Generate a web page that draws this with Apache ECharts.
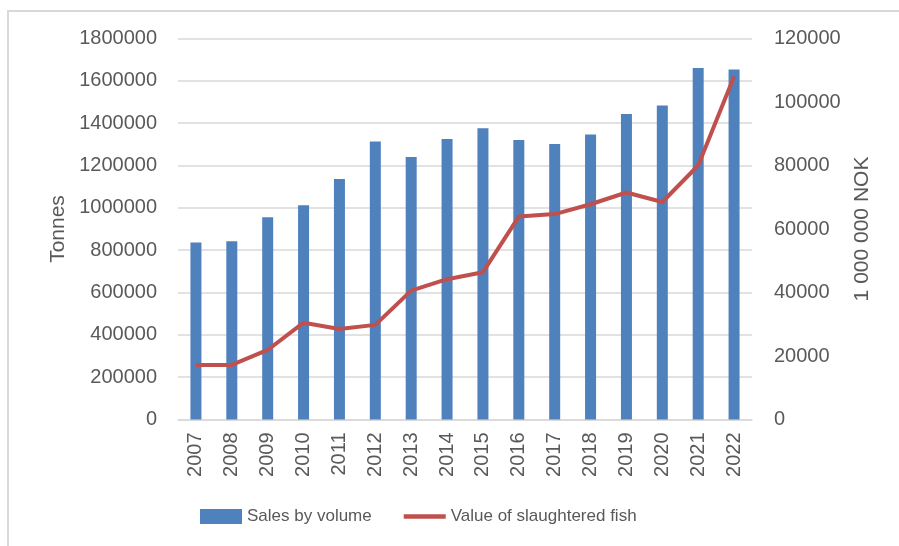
<!DOCTYPE html>
<html>
<head>
<meta charset="utf-8">
<script src="https://cdn.jsdelivr.net/npm/echarts@6/dist/echarts.min.js"></script>
<style>html,body{margin:0;padding:0;background:#fff}#c{width:899px;height:546px}</style>
</head>
<body>
<div id="c"></div>
<script>
const categories = ['2007','2008','2009','2010','2011','2012','2013','2014','2015','2016','2017','2018','2019','2020','2021','2022'];
const salesByVolume = [836000, 842000, 955000, 1012000, 1136000, 1313000, 1240000, 1325000, 1376000, 1320000, 1302000, 1347000, 1443000, 1484000, 1661000, 1654000];
const valueSlaughtered = [17200, 17200, 21900, 30500, 28500, 29800, 40600, 44200, 46400, 63900, 64700, 67800, 71500, 68500, 80000, 108000];
const leftTicks = {min: 0, max: 1800000, interval: 200000};
const rightTicks = {min: 0, max: 120000, interval: 20000};

const txt = '#595959';
const font = 'Liberation Sans';
const plain = v => String(v);
const chart = echarts.init(document.getElementById('c'));
chart.setOption({
  animation: false,
  textStyle: {fontFamily: font, color: txt},
  graphic: [{
    type: 'rect', silent: true,
    shape: {x: 8, y: 11, width: 1200, height: 1200},
    style: {fill: 'none', stroke: '#d9d9d9', lineWidth: 2}
  }],
  grid: {left: 178, right: 147, top: 38.5, bottom: 126.5},
  legend: {
    bottom: 16, left: 195,
    itemWidth: 42, itemHeight: 15, itemGap: 32,
    textStyle: {fontFamily: font, fontSize: 17, color: txt},
    data: [
      {name: 'Sales by volume', icon: 'rect'},
      {name: 'Value of slaughtered fish', icon: 'path://M0,0 L44,0 L44,4.5 L0,4.5 Z'}
    ]
  },
  xAxis: {
    type: 'category', data: categories,
    axisLine: {lineStyle: {color: '#d9d9d9', width: 1.5}},
    axisTick: {show: false},
    axisLabel: {rotate: 90, margin: 13, fontSize: 20, color: txt, fontFamily: font}
  },
  yAxis: [{
    type: 'value', min: leftTicks.min, max: leftTicks.max, interval: leftTicks.interval,
    name: 'Tonnes', nameLocation: 'middle', nameRotate: 90, nameGap: 100,
    nameTextStyle: {fontSize: 21, color: txt, fontFamily: font},
    axisLine: {show: false}, axisTick: {show: false},
    axisLabel: {margin: 21, fontSize: 20, color: txt, fontFamily: font, formatter: plain},
    splitLine: {lineStyle: {color: '#d9d9d9', width: 1.5}}
  }, {
    type: 'value', min: rightTicks.min, max: rightTicks.max, interval: rightTicks.interval,
    name: '1 000 000 NOK', nameLocation: 'middle', nameRotate: 90, nameGap: 100,
    nameTextStyle: {fontSize: 21, color: txt, fontFamily: font},
    axisLine: {show: false}, axisTick: {show: false},
    axisLabel: {margin: 22, fontSize: 20, color: txt, fontFamily: font, formatter: plain},
    splitLine: {show: false}
  }],
  series: [{
    name: 'Sales by volume', type: 'bar', data: salesByVolume,
    barWidth: 11,
    itemStyle: {color: '#4F81BD'}
  }, {
    name: 'Value of slaughtered fish', type: 'line', yAxisIndex: 1, data: valueSlaughtered,
    symbol: 'none',
    lineStyle: {color: '#C0504D', width: 4},
    itemStyle: {color: '#C0504D'}
  }]
});
</script>
</body>
</html>
